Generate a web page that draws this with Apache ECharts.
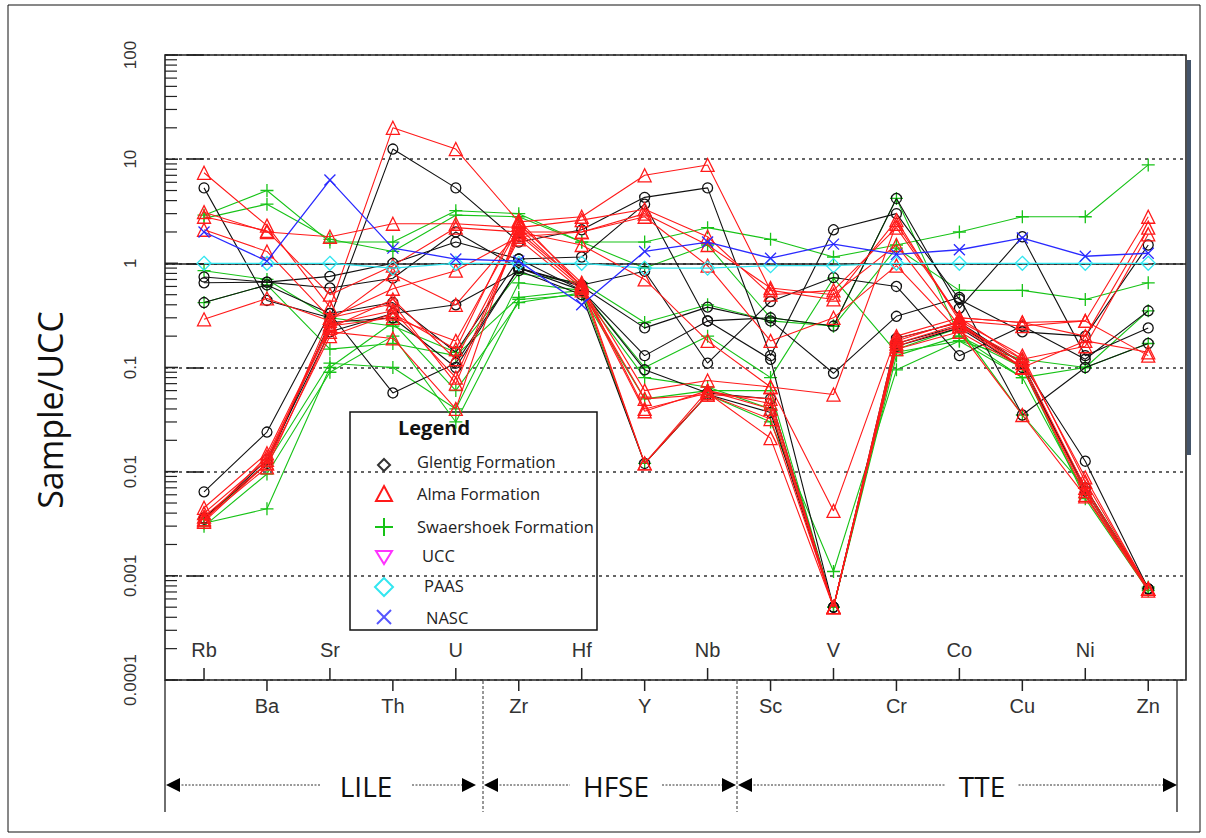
<!DOCTYPE html>
<html>
<head>
<meta charset="utf-8">
<script src="https://cdn.jsdelivr.net/npm/echarts@6/dist/echarts.min.js"></script>
<style>
  html, body { margin: 0; padding: 0; background: #fff; }
  #chart { width: 1206px; height: 838px; }
</style>
</head>
<body>
<div id="chart"></div>
<script>
// Element order along the x axis (UCC-normalised spider diagram)
const elements = ['Rb','Ba','Sr','Th','U','Zr','Hf','Y','Nb','Sc','V','Cr','Co','Cu','Ni','Zn'];
const yTickLabels = ['0.0001','0.001','0.01','0.1','1','10','100'];
const groupNames = ['LILE','HFSE','TTE'];

// Glentig Formation samples (Sample/UCC)
const glentig1 = [5.3, 0.44, 0.30, 12.5, 5.3, 1.6, 2.1, 4.3, 5.3, 0.13, 2.1, 3.0, 0.45, 0.22, 0.20, 1.5];
const glentig2 = [0.74, 0.66, 0.75, 1.0, 1.6, 1.1, 1.15, 3.7, 0.28, 0.30, 0.25, 4.2, 0.37, 1.8, 0.13, 0.24];
const glentig3 = [0.65, 0.66, 0.58, 0.72, 2.0, 0.9, 0.62, 0.84, 0.11, 0.43, 0.73, 0.60, 0.13, 0.25, 0.12, 0.35];
const glentig4 = [0.42, 0.62, 0.33, 0.057, 0.11, 0.9, 0.60, 0.24, 0.38, 0.28, 0.088, 0.31, 0.47, 0.035, 0.10, 0.17];
const glentig5 = [0.0064, 0.024, 0.33, 0.42, 0.14, 1.1, 0.55, 0.13, 0.28, 0.12, 0.0005, 0.19, 0.27, 0.11, 0.0126, 0.00075];
const glentig6 = [0.0036, 0.012, 0.27, 0.30, 0.10, 0.9, 0.55, 0.095, 0.057, 0.05, 0.0005, 0.17, 0.25, 0.11, 0.0065, 0.00075];
const glentig7 = [0.0035, 0.013, 0.22, 0.33, 0.40, 0.85, 0.50, 0.012, 0.055, 0.037, 0.0005, 0.16, 0.24, 0.10, 0.007, 0.00075];

// Alma Formation samples
const alma1 = [7.4, 2.3, 0.38, 20, 12.5, 2.5, 2.8, 7.0, 8.8, 0.55, 0.45, 2.6, 0.28, 0.25, 0.28, 2.8];
const alma2 = [3.1, 2.0, 1.8, 2.4, 2.4, 2.2, 2.6, 3.3, 1.8, 0.50, 0.55, 2.2, 0.30, 0.27, 0.20, 2.2];
const alma3 = [2.8, 2.05, 0.50, 0.95, 2.2, 2.0, 2.0, 3.0, 1.5, 0.58, 0.50, 1.5, 0.25, 0.12, 0.16, 1.9];
const alma4 = [2.1, 1.3, 0.30, 0.57, 0.85, 1.8, 2.0, 2.8, 0.95, 0.18, 0.30, 0.95, 0.22, 0.10, 0.18, 0.14];
const alma5 = [0.29, 0.46, 0.28, 0.79, 0.40, 2.0, 1.5, 0.70, 0.18, 0.065, 0.055, 2.4, 0.30, 0.27, 0.28, 0.13];
const alma6 = [0.0045, 0.015, 0.25, 0.30, 0.18, 2.2, 0.60, 0.06, 0.075, 0.065, 0.0042, 0.20, 0.30, 0.12, 0.0088, 0.00075];
const alma7 = [0.004, 0.013, 0.26, 0.35, 0.08, 2.0, 0.62, 0.04, 0.057, 0.021, 0.0005, 0.18, 0.28, 0.13, 0.008, 0.00075];
const alma8 = [0.0037, 0.012, 0.30, 0.41, 0.07, 1.9, 0.58, 0.038, 0.06, 0.045, 0.0005, 0.17, 0.26, 0.11, 0.007, 0.00075];
const alma9 = [0.0035, 0.011, 0.22, 0.19, 0.04, 2.4, 0.65, 0.012, 0.055, 0.05, 0.0005, 0.16, 0.25, 0.10, 0.006, 0.00075];
const alma10 = [0.0033, 0.012, 0.20, 0.33, 0.15, 2.6, 0.60, 0.012, 0.06, 0.04, 0.0005, 0.19, 0.27, 0.10, 0.0065, 0.00075];
const alma11 = [0.0034, 0.014, 0.24, 0.45, 0.12, 1.7, 0.55, 0.05, 0.055, 0.032, 0.0005, 0.15, 0.22, 0.035, 0.0058, 0.00072];

// Swaershoek Formation samples
const swaershoek1 = [2.9, 5.0, 1.6, 1.6, 3.2, 3.0, 1.6, 1.6, 2.2, 1.7, 1.15, 1.5, 2.0, 2.8, 2.8, 8.8];
const swaershoek2 = [2.7, 3.7, 1.7, 1.3, 2.9, 2.8, 1.6, 0.9, 1.5, 0.30, 0.25, 1.4, 0.55, 0.55, 0.45, 0.65];
const swaershoek3 = [0.85, 0.70, 0.30, 0.25, 0.14, 0.8, 0.65, 0.27, 0.40, 0.28, 0.25, 4.2, 0.20, 0.08, 0.10, 0.35];
const swaershoek4 = [0.42, 0.62, 0.15, 0.17, 0.13, 0.47, 0.55, 0.10, 0.20, 0.08, 0.72, 0.14, 0.18, 0.12, 0.10, 0.17];
const swaershoek5 = [0.0035, 0.012, 0.11, 0.10, 0.04, 0.65, 0.55, 0.012, 0.055, 0.03, 0.0011, 0.095, 0.18, 0.08, 0.006, 0.00075];
const swaershoek6 = [0.003, 0.0095, 0.09, 0.20, 0.03, 0.45, 0.50, 0.05, 0.06, 0.06, 0.0005, 0.13, 0.20, 0.10, 0.0055, 0.00072];
const swaershoek7 = [0.0032, 0.0044, 0.10, 0.27, 0.06, 0.42, 0.52, 0.08, 0.065, 0.04, 0.0005, 0.15, 0.24, 0.035, 0.007, 0.00078];

// Reference compositions normalised to UCC
const ucc  = [1, 1, 1, 1, 1, 1, 1, 1, 1, 1, 1, 1, 1, 1, 1, 1];
const paas = [1.0, 1.0, 1.0, 0.9, 1.0, 1.0, 1.0, 0.9, 0.9, 0.95, 0.95, 1.0, 1.0, 1.0, 1.0, 1.0];
const nasc = [2.0, 1.05, 6.3, 1.4, 1.1, 1.05, 0.40, 1.3, 1.6, 1.12, 1.53, 1.22, 1.35, 1.75, 1.17, 1.25];

const X_MIN = -0.62, X_MAX = 15.6;
const Y_MIN = 0.0001, Y_MAX = 100;

const COLORS = { glentig: '#111111', alma: '#ff1a1a', swaershoek: '#17c317', ucc: '#ff33ff', paas: '#33e6f0', nasc: '#2a2aff' };
const PLUS = 'path://M0,6L12,6M6,0L6,12';
const CROSS = 'path://M0,0L10,10M10,0L0,10';

function sampleSeries(name, values, color, symbol, size, z) {
  return {
    type: 'line', name: name,
    data: values.map((v, i) => [i, v]),
    symbol: symbol, symbolSize: size, symbolKeepAspect: true,
    lineStyle: { color: color, width: 1.1 },
    itemStyle: { color: 'transparent', borderColor: color, borderWidth: 1.3 },
    emphasis: { disabled: true }, silent: true, animation: false, z: z
  };
}

const series = [];
[swaershoek1, swaershoek2, swaershoek3, swaershoek4, swaershoek5, swaershoek6, swaershoek7]
  .forEach(d => series.push(sampleSeries('Swaershoek Formation', d, COLORS.swaershoek, PLUS, 13, 3)));
[glentig1, glentig2, glentig3, glentig4, glentig5, glentig6, glentig7]
  .forEach(d => series.push(sampleSeries('Glentig Formation', d, COLORS.glentig, 'circle', 10, 4)));
[alma1, alma2, alma3, alma4, alma5, alma6, alma7, alma8, alma9, alma10, alma11]
  .forEach(d => series.push(sampleSeries('Alma Formation', d, COLORS.alma, 'triangle', 13, 5)));

// UCC: unity line
series.push({
  type: 'line', name: 'UCC', data: ucc.map((v, i) => [i, v]),
  symbol: 'none', lineStyle: { opacity: 0 }, silent: true, animation: false, z: 2,
  markLine: {
    silent: true, symbol: 'none', label: { show: false }, animation: false,
    lineStyle: { color: '#222', type: 'solid', width: 1.6 },
    data: [{ yAxis: 1 }]
  }
});
series.push(sampleSeries('PAAS', paas, COLORS.paas, 'diamond', 14, 6));
series.push(sampleSeries('NASC', nasc, COLORS.nasc, CROSS, 11, 7));
series[series.length - 1].lineStyle.width = 1.3;

// Minor ticks of the log axis (2..9 x 10^n), drawn inside the frame
const logTicks = [];
for (let e = -4; e < 2; e++) for (let k = 1; k < 10; k++) logTicks.push(k * Math.pow(10, e));
logTicks.push(100);
series.push({
  type: 'custom', silent: true, clip: false, animation: false, z: 8,
  data: logTicks.map(v => [X_MIN, v]),
  renderItem: (p, api) => {
    const pt = api.coord([api.value(0), api.value(1)]);
    const major = Math.abs(Math.log10(api.value(1)) - Math.round(Math.log10(api.value(1)))) < 1e-6;
    return { type: 'line', shape: { x1: pt[0], y1: pt[1], x2: pt[0] + (major ? 13 : 12), y2: pt[1] },
             style: { stroke: '#222', lineWidth: major ? 1.6 : 1.2 } };
  }
});

// Element ticks and labels, alternating above and below the x axis
series.push({
  type: 'custom', silent: true, clip: false, animation: false, z: 8,
  data: elements.map((e, i) => [i, Y_MIN]),
  renderItem: (p, api) => {
    const i = api.value(0);
    const pt = api.coord([i, Y_MIN]);
    const up = i % 2 === 0;
    return {
      type: 'group',
      children: [
        { type: 'line', shape: { x1: pt[0], y1: pt[1], x2: pt[0], y2: up ? pt[1] - 12 : pt[1] + 11 },
          style: { stroke: '#222', lineWidth: 1.5 } },
        { type: 'text', x: pt[0], y: up ? pt[1] - 30 : pt[1] + 26,
          style: { text: elements[i], fill: '#333', fontSize: 20, fontFamily: '"Liberation Sans Narrow", "Liberation Sans", Arial, sans-serif',
                   align: 'center', verticalAlign: 'middle' } }
      ]
    };
  }
});

// Bottom annotation: element groups with double-headed arrows
const Y_ARROW = 785;
const spans = [
  { name: groupNames[0], x1: 166, x2: 476, tx: 366 },
  { name: groupNames[1], x1: 484, x2: 736, tx: 616 },
  { name: groupNames[2], x1: 738, x2: 1177, tx: 982 }
];
const graphics = [];
// vertical separators
graphics.push({ type: 'line', shape: { x1: 165, y1: 680, x2: 165, y2: 812 }, style: { stroke: '#222', lineWidth: 1.3 }, z: 10 });
graphics.push({ type: 'line', shape: { x1: 1177, y1: 680, x2: 1177, y2: 812 }, style: { stroke: '#222', lineWidth: 1.3 }, z: 10 });
[483, 737].forEach(x => graphics.push({ type: 'line', shape: { x1: x, y1: 681, x2: x, y2: 812 },
  style: { stroke: '#333', lineWidth: 1, lineDash: [3, 2] }, z: 10 }));
spans.forEach(s => {
  const half = s.name.length * 9.5 + 8;
  graphics.push({ type: 'line', shape: { x1: s.x1 + 12, y1: Y_ARROW, x2: s.tx - half, y2: Y_ARROW },
    style: { stroke: '#333', lineWidth: 1, lineDash: [2, 1.5] }, z: 10 });
  graphics.push({ type: 'line', shape: { x1: s.tx + half, y1: Y_ARROW, x2: s.x2 - 12, y2: Y_ARROW },
    style: { stroke: '#333', lineWidth: 1, lineDash: [2, 1.5] }, z: 10 });
  graphics.push({ type: 'polygon', shape: { points: [[s.x1, Y_ARROW], [s.x1 + 14, Y_ARROW - 7], [s.x1 + 14, Y_ARROW + 7]] },
    style: { fill: '#000' }, z: 10 });
  graphics.push({ type: 'polygon', shape: { points: [[s.x2, Y_ARROW], [s.x2 - 14, Y_ARROW - 7], [s.x2 - 14, Y_ARROW + 7]] },
    style: { fill: '#000' }, z: 10 });
  graphics.push({ type: 'text', x: s.tx, y: Y_ARROW + 1,
    style: { text: s.name, fill: '#111', fontSize: 28, fontFamily: '"Open Sans", "Noto Sans", sans-serif', align: 'center', verticalAlign: 'middle' }, z: 10 });
});

// Vertical axis title
graphics.push({ type: 'text', x: 50, y: 410, rotation: Math.PI / 2,
  style: { text: 'Sample/UCC', fill: '#111', fontSize: 34, fontFamily: '"Open Sans", "Noto Sans", sans-serif', align: 'center', verticalAlign: 'middle' }, z: 10 });

// Legend box
const LX = 350, LY = 412;
const legendItems = [
  { label: 'Glentig Formation', y: 461, tx: 417 },
  { label: 'Alma Formation', y: 493, tx: 417 },
  { label: 'Swaershoek Formation', y: 526, tx: 417 },
  { label: 'UCC', y: 555, tx: 422 },
  { label: 'PAAS', y: 585, tx: 424 },
  { label: 'NASC', y: 617, tx: 426 }
];
const lg = [];
lg.push({ type: 'rect', shape: { x: LX, y: LY, width: 247, height: 218 }, style: { fill: '#fff', stroke: '#111', lineWidth: 1.5 } });
lg.push({ type: 'text', x: 398, y: 427, style: { text: 'Legend', fill: '#111', fontSize: 20, fontWeight: 'bold',
  fontFamily: '"Open Sans", "Noto Sans", sans-serif', align: 'left', verticalAlign: 'middle' } });
legendItems.forEach(it => lg.push({ type: 'text', x: it.tx, y: it.y,
  style: { text: it.label, fill: '#222', fontSize: 16.5, fontFamily: '"Open Sans", "Noto Sans", sans-serif', align: 'left', verticalAlign: 'middle' } }));
const sx = 384;
// legend symbols
lg.push({ type: 'polygon', shape: { points: [[sx, 459], [sx + 6, 465], [sx, 471], [sx - 6, 465]] }, style: { fill: 'none', stroke: '#333', lineWidth: 2 } });
lg.push({ type: 'polygon', shape: { points: [[sx, 486], [sx + 8, 501], [sx - 8, 501]] }, style: { fill: 'none', stroke: COLORS.alma, lineWidth: 2 } });
lg.push({ type: 'polyline', shape: { points: [[sx - 9, 527], [sx + 9, 527]] }, style: { stroke: COLORS.swaershoek, lineWidth: 2 } });
lg.push({ type: 'polyline', shape: { points: [[sx, 518], [sx, 536]] }, style: { stroke: COLORS.swaershoek, lineWidth: 2 } });
lg.push({ type: 'polygon', shape: { points: [[sx - 8, 551], [sx + 8, 551], [sx, 564]] }, style: { fill: 'none', stroke: COLORS.ucc, lineWidth: 2 } });
lg.push({ type: 'polygon', shape: { points: [[sx, 578], [sx + 9, 587], [sx, 596], [sx - 9, 587]] }, style: { fill: 'none', stroke: COLORS.paas, lineWidth: 2 } });
lg.push({ type: 'polyline', shape: { points: [[sx - 7, 610], [sx + 7, 624]] }, style: { stroke: '#5555ff', lineWidth: 2 } });
lg.push({ type: 'polyline', shape: { points: [[sx + 7, 610], [sx - 7, 624]] }, style: { stroke: '#5555ff', lineWidth: 2 } });
graphics.push({ type: 'group', z: 50, children: lg });

// Side bar and outer frame
graphics.push({ type: 'rect', shape: { x: 1187, y: 60, width: 4, height: 395 }, style: { fill: '#44546a' }, z: 10 });
graphics.push({ type: 'rect', shape: { x: 8, y: 5, width: 1192, height: 827 }, style: { fill: 'none', stroke: '#111', lineWidth: 1 }, z: 1 });

const chart = echarts.init(document.getElementById('chart'), null, { renderer: 'svg' });
chart.setOption({
  backgroundColor: '#fff',
  animation: false,
  grid: { left: 165, right: 20, top: 55, bottom: 158, show: true, borderColor: '#222', borderWidth: 1.6, backgroundColor: 'transparent' },
  xAxis: {
    type: 'value', min: X_MIN, max: X_MAX,
    axisLine: { show: false }, axisTick: { show: false }, axisLabel: { show: false }, splitLine: { show: false }
  },
  yAxis: {
    type: 'log', logBase: 10, min: Y_MIN, max: Y_MAX, interval: 1,
    axisLine: { show: false },
    axisTick: { show: true, length: 17, lineStyle: { color: '#222', width: 1.6 } },
    axisLabel: {
      rotate: 90, margin: 26, fontSize: 17, color: '#333',
      fontFamily: '"Liberation Sans Narrow", "Liberation Sans", Arial, sans-serif',
      formatter: v => yTickLabels[Math.round(Math.log10(v)) + 4]
    },
    splitLine: { show: true, lineStyle: { color: '#333', width: 1.5, type: [3, 4] } },
    minorTick: { show: false }
  },
  graphic: graphics,
  series: series
});
</script>
</body>
</html>
